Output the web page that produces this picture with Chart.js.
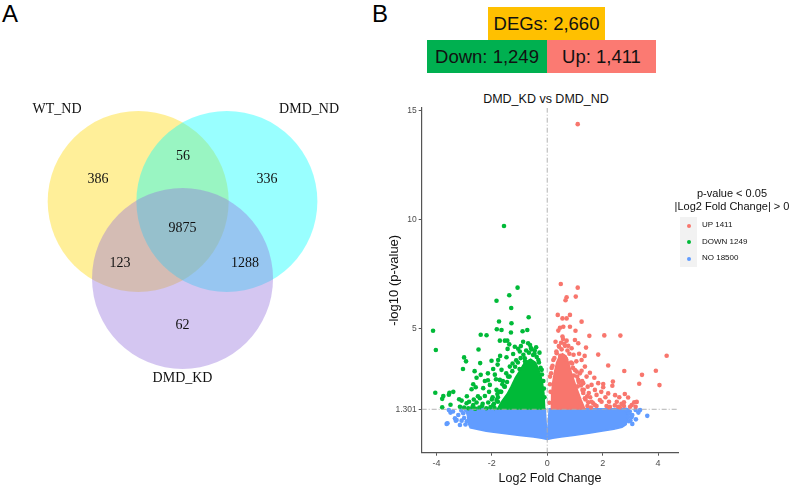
<!DOCTYPE html>
<html>
<head>
<meta charset="utf-8">
<script src="https://cdn.jsdelivr.net/npm/chart.js@4.4.0/dist/chart.umd.min.js"></script>
<style>
    body { margin: 0; width: 790px; height: 488px; position: relative; background: #fff; overflow: hidden;
        font-family: "Liberation Sans", Arial, sans-serif; }
    .abs { position: absolute; }
    .panel { font-size: 24px; line-height: 24px; top: 2px; }
    .box { position: absolute; display: flex; align-items: center; justify-content: center; font-size: 18.5px; color: #111; }
    #legend { left: 640px; top: 185px; width: 185px; }
    .lg-title { position: absolute; width: 184px; left: 0; text-align: center; font-size: 11px; color: #111; }
    .lg-keys { position: absolute; left: 40px; top: 32px; width: 17px; height: 50px; background: #f2f2f2; }
    .lg-item { position: absolute; left: 40px; height: 17px; font-size: 8px; color: #111; }
    .lg-item i { position: absolute; left: 6.5px; top: 6.5px; width: 4px; height: 4px; border-radius: 50%; }
    .lg-item span { position: absolute; left: 22px; top: 3px; white-space: nowrap; }
</style>
</head>
<body>
<div class="abs panel" style="left:2px">A</div>
<div class="abs panel" style="left:372px">B</div>

<canvas id="venn" class="abs" width="380" height="488" style="left:0;top:0"></canvas>

<div class="box" id="degBox" style="left:488px;top:7px;width:117px;height:33px;background:#ffc000"></div>
<div class="box" id="downBox" style="left:427px;top:40px;width:120px;height:33px;background:#00b050"></div>
<div class="box" id="upBox" style="left:547px;top:40px;width:109px;height:33px;background:#fb7a72"></div>

<div class="abs" id="plotTitle" style="left:446px;top:93px;width:200px;text-align:center;font-size:12.5px;line-height:13px;color:#111">DMD_KD vs DMD_ND</div>

<canvas id="volcano" class="abs" width="410" height="400" style="left:380px;top:88px"></canvas>

<div class="abs" id="legend">
    <div class="lg-title" style="top:2px">p-value &lt; 0.05</div>
    <div class="lg-title" style="top:15px">|Log2 Fold Change| &gt; 0</div>
    <div class="lg-keys"></div>
</div>

<script>
    // ---- panel A: Venn diagram (unit circles) ----
    const vennSets = ['WT_ND', 'DMD_ND', 'DMD_KD'];
    const vennCx = [-0.49, 0.49, 0];
    const vennCy = [0.284, 0.284, -0.567];
    const vennR = 1;
    const vennNameX = [-1.387, 1.398, 0];
    const vennNameY = [1.305, 1.305, -1.666];
    const vennCounts = [386, 56, 336, 9875, 123, 1288, 62];
    const vennCountX = [-0.934, 0.006, 0.934, 0, -0.69, 0.69, 0];
    const vennCountY = [0.533, 0.787, 0.533, -0.01, -0.396, -0.396, -1.08];

    // ---- panel B: DEG counts ----
    const degTotal = 2660;
    const downCount = 1249;
    const upCount = 1411;
    const noCount = 18500;
    const pThreshold = 1.301;
    const xTicks = [-4, -2, 0, 2, 4];
    const yTicks = [1.301, 5, 10, 15];

    // significant up (red)
    const upX = [1.10, 0.49, 1.10, 0.70, 0.66, 1.03, 0.38, 0.82, 0.55, 0.70, 1.24, 0.82, 0.46, 0.58, 0.40, 1.02, 1.52, 2.06, 2.64, 0.55,
        0.57, 1.00, 1.12, 1.40, 1.84, 2.20, 2.78, 3.92, 3.42, 4.05, 4.31, 3.32, 2.37, 2.35, 2.02, 2.02, 2.80, 2.92, 2.20, 3.14,
        3.23, 2.14, 2.26, 2.44, 2.56, 2.68, 2.51, 2.77, 2.23, 2.62, 2.77, 2.99, 3.19, 1.66, 1.78, 1.96, 0.43, 0.64, 0.76, 1.24,
        1.36, 1.06, 1.24, 1.42, 1.54, 1.12, 1.60, 1.72, 1.27, 1.46, 1.78, 1.90, 1.36, 1.60, 1.72, 2.23, 1.84, 0.22, 0.10, 0.34,
        0.95, 0.30, 0.88, 1.05, 1.30, 1.50, 1.45, 1.55, 1.20, 1.00, 0.12, 0.08, 0.16, 0.50, 0.70, 1.15, 1.95, 2.10, 2.45, 3.05,
        2.60, 1.70, 1.35,
        0.10, 0.14, 0.19, 0.26, 0.33, 0.42, 0.52, 0.62, 0.73, 0.80, 0.86, 0.93, 1.00, 1.08, 1.14, 1.22, 1.30, 1.38, 1.48, 1.58,
        0.60, 0.68, 0.47, 0.90, 1.18, 1.32, 1.44, 1.26, 0.96, 1.10];
    const upY = [14.38, 7.05, 6.88, 6.44, 6.30, 6.47, 5.63, 5.63, 5.47, 5.47, 5.32, 5.09, 5.04, 5.09, 4.91, 4.90, 4.67, 4.69, 4.68, 4.64,
        4.52, 4.48, 4.33, 4.13, 3.81, 3.31, 3.06, 3.07, 2.88, 2.41, 3.76, 2.47, 2.57, 2.38, 2.46, 2.31, 2.00, 1.84, 2.03, 1.62,
        1.64, 1.45, 1.42, 1.48, 1.42, 1.55, 1.65, 1.62, 1.39, 1.39, 1.45, 1.42, 1.42, 1.58, 1.45, 1.65, 4.17, 4.21, 4.21, 3.56,
        3.26, 3.03, 3.07, 2.80, 2.98, 2.65, 2.42, 2.19, 2.19, 2.34, 1.96, 1.73, 1.81, 1.65, 1.50, 1.65, 2.50, 3.56, 2.80, 3.87,
        3.80, 4.40, 4.10, 3.50, 2.50, 2.05, 1.45, 1.85, 1.55, 2.00, 2.10, 1.60, 3.20, 4.35, 4.45, 3.85, 2.10, 1.85, 1.95, 1.50,
        1.85, 2.75, 3.75,
        2.45, 2.95, 3.30, 3.65, 3.95, 4.20, 4.05, 4.30, 4.00, 3.85, 3.45, 3.20, 3.10, 2.80, 2.55, 2.40, 2.05, 1.75, 1.62, 1.38,
        3.70, 3.60, 3.75, 3.40, 2.95, 2.20, 1.90, 2.60, 2.85, 2.35];
    // solid part of the up cloud
    const upCoreX = [0.15, 0.16, 0.20, 0.26, 0.34, 0.44, 0.55, 0.68, 0.78, 0.88, 1.00, 1.10, 1.22, 1.36];
    const upCoreY = [1.32, 2.00, 2.55, 3.00, 3.45, 3.75, 3.85, 3.75, 3.40, 2.95, 2.50, 2.15, 1.75, 1.32];

    // significant down (green)
    const downX = [-4.12, -4.02, -1.56, -1.07, -1.37, -1.83, -1.30, -1.74, -1.29, -0.67, -1.82, -1.65, -1.31, -0.89, -0.72, -2.40, -2.19, -1.71, -1.53, -1.44,
        -0.69, -0.59, -1.37, -1.43, -1.05, -2.48, -1.70, -3.00, -2.93, -3.04, -2.42, -2.01, -1.79, -2.62, -2.40, -2.14, -1.89, -2.14, -2.67, -2.73,
        -2.58, -2.31, -2.07, -1.85, -4.04, -3.75, -3.79, -3.53, -3.39, -3.55, -3.79, -3.49, -3.18, -3.09, -3.15, -2.91, -2.82, -2.67, -2.55, -2.43,
        -2.25, -2.33, -2.13, -1.97, -1.83, -1.71, -1.77, -1.47, -1.23, -0.99, -0.81, -1.65, -1.35, -1.71, -1.41, -1.83, -1.53, -1.78, -0.51, -0.32,
        -0.20, -1.17, -0.87, -3.00, -2.85, -2.70, -2.60, -2.45, -2.35, -2.20, -2.05, -1.95, -1.90, -2.50, -2.10, -2.00, -1.80, -2.25, -2.55, -1.95,
        -2.65, -2.90, -1.60, -1.25, -0.45, -0.95,
        -1.92, -1.78, -1.66, -1.55, -1.45, -1.36, -1.26, -1.16, -1.06, -0.96, -0.86, -0.76, -0.66, -0.56, -0.46, -0.38, -0.30, -0.24, -0.19, -0.14,
        -0.12, -0.10, -1.62, -1.48, -1.12, -0.62, -0.40, -0.28, -1.00, -0.80];
    const downY = [4.90, 4.02, 9.71, 6.88, 6.53, 6.28, 5.95, 5.33, 5.25, 5.52, 4.97, 4.94, 4.82, 4.88, 4.94, 4.72, 4.70, 4.45, 4.45, 4.45,
        4.33, 4.11, 4.28, 4.07, 4.08, 4.04, 3.75, 3.68, 3.50, 3.15, 3.42, 3.53, 3.35, 3.05, 2.88, 2.95, 2.89, 2.63, 2.45, 2.22,
        2.31, 2.27, 2.42, 2.68, 2.06, 1.91, 1.78, 2.06, 2.10, 1.97, 1.39, 1.51, 1.76, 1.70, 1.42, 1.58, 1.65, 1.50, 1.61, 1.81,
        1.91, 1.55, 1.61, 1.85, 1.73, 2.11, 3.56, 3.69, 3.84, 3.95, 3.64, 3.11, 3.26, 2.65, 2.80, 2.19, 2.34, 1.65, 3.79, 3.56,
        3.11, 4.17, 4.40, 1.38, 1.35, 1.40, 1.33, 1.38, 1.45, 1.35, 1.40, 1.50, 1.36, 1.90, 2.10, 1.75, 2.00, 2.60, 2.75, 3.15,
        1.75, 1.90, 2.60, 3.40, 4.00, 4.20,
        1.55, 1.85, 2.10, 2.35, 2.55, 2.80, 3.05, 3.25, 3.45, 3.65, 3.80, 4.00, 3.90, 4.05, 3.85, 3.70, 3.45, 3.20, 2.90, 2.60,
        2.25, 1.85, 2.45, 2.95, 3.55, 4.25, 4.15, 3.90, 3.15, 3.50];
    // solid part of the down cloud
    const downCoreX = [-0.09, -1.80, -1.65, -1.45, -1.30, -1.15, -0.98, -0.82, -0.60, -0.42, -0.28, -0.18, -0.12];
    const downCoreY = [1.32, 1.32, 1.65, 2.00, 2.35, 2.75, 3.10, 3.45, 3.60, 3.45, 3.05, 2.60, 2.05];

    // not significant (blue), stray points
    const noX = [3.61, 3.35, 3.19, 3.20, 3.07, 3.07, 2.98, 2.95, 3.05, 3.29, 2.90, 2.95, 2.92, 3.00, 2.85,
        -3.63, -3.49, -3.30, -3.15, -3.09, -3.33, -3.21, -3.03, -3.55, -3.00, -2.95, -3.10, -3.40, -3.60, -3.27, -2.92, -2.90];
    const noY = [1.00, 1.27, 1.27, 0.84, 0.63, 1.04, 1.20, 0.75, 0.95, 1.15, 1.25, 1.10, 0.95, 0.80, 1.28,
        0.63, 1.15, 0.78, 0.58, 0.78, 0.89, 1.04, 1.12, 1.27, 0.90, 0.60, 1.25, 1.20, 0.66, 0.81, 1.25, 0.75];
    // dense body of the non significant cloud
    const noCoreX = [-2.95, -2.88, -2.85, -2.78, -2.50, -2.20, -2.00, -1.50, -1.00, -0.50, -0.20, 0.00, 0.20, 0.50, 1.00,
        1.50, 2.00, 2.40, 2.70, 2.85, 2.90, 2.88, 0.07, 0.015, -0.015, -0.07];
    const noCoreY = [1.33, 1.00, 0.65, 0.45, 0.37, 0.29, 0.26, 0.18, 0.10, 0.03, -0.03, -0.08, -0.03, 0.03, 0.11,
        0.20, 0.30, 0.38, 0.48, 0.60, 0.90, 1.33, 1.33, 0.20, 0.20, 1.33];

    const colUp = '#F8766D';
    const colDown = '#00BA38';
    const colNo = '#619CFF';
    const sans = '"Liberation Sans", Arial, sans-serif';

    const toPoints = (xs, ys) => xs.map((x, i) => ({x: x, y: ys[i]}));

    // text boxes above the volcano
    document.getElementById('degBox').textContent = 'DEGs: ' + degTotal.toLocaleString('en-US');
    document.getElementById('downBox').textContent = 'Down: ' + downCount.toLocaleString('en-US');
    document.getElementById('upBox').textContent = 'Up: ' + upCount.toLocaleString('en-US');

    // legend entries
    const legend = document.getElementById('legend');
    [['UP', upCount, colUp], ['DOWN', downCount, colDown], ['NO', noCount, colNo]].forEach((row, i) => {
        const item = document.createElement('div');
        item.className = 'lg-item';
        item.style.top = (32 + i * 16.5) + 'px';
        item.innerHTML = '<i style="background:' + row[2] + '"></i><span>' + row[0] + ' ' + row[1] + '</span>';
        legend.appendChild(item);
    });

    // ---- Venn ----
    const vennText = {
        id: 'vennText',
        afterDatasetsDraw(chart) {
            const ctx = chart.ctx;
            const sx = chart.scales.x;
            const sy = chart.scales.y;
            ctx.save();
            ctx.fillStyle = '#111';
            ctx.textAlign = 'center';
            ctx.textBaseline = 'middle';
            ctx.font = '14px "Liberation Serif", "Times New Roman", serif';
            vennCounts.forEach((n, i) => {
                ctx.fillText(String(n), sx.getPixelForValue(vennCountX[i]), sy.getPixelForValue(vennCountY[i]));
            });
            vennSets.forEach((name, i) => {
                ctx.fillText(name, sx.getPixelForValue(vennNameX[i]), sy.getPixelForValue(vennNameY[i]));
            });
            ctx.restore();
        }
    };

    new Chart(document.getElementById('venn'), {
        type: 'scatter',
        data: {
            datasets: [{
                data: toPoints(vennCx, vennCy),
                backgroundColor: ['rgba(255,215,0,0.4)', 'rgba(0,255,255,0.4)', 'rgba(147,112,219,0.4)'],
                borderWidth: 0,
                pointRadius: (c) => {
                    const s = c.chart.scales.x;
                    return s.getPixelForValue(vennR) - s.getPixelForValue(0);
                },
                clip: false,
            }]
        },
        options: {
            responsive: false,
            animation: false,
            events: [],
            layout: {padding: 0},
            scales: {
                x: {display: false, min: -2.017, max: 2.182},
                y: {display: false, min: -2.882, max: 2.51},
            },
            plugins: {legend: {display: false}, tooltip: {enabled: false}},
        },
        plugins: [vennText],
    });

    // ---- volcano ----
    // fills the dense part of a cloud, drawn in the dataset order
    const coreFill = {
        id: 'coreFill',
        beforeDatasetDraw(chart, args) {
            const ds = chart.data.datasets[args.index];
            if (!ds.core) {
                return;
            }
            const ctx = chart.ctx;
            const area = chart.chartArea;
            const pts = args.meta.data;
            ctx.save();
            ctx.beginPath();
            ctx.rect(area.left, area.top, area.right - area.left, area.bottom - area.top);
            ctx.clip();
            ctx.beginPath();
            pts.forEach((p, i) => {
                if (i === 0) {
                    ctx.moveTo(p.x, p.y);
                } else {
                    ctx.lineTo(p.x, p.y);
                }
            });
            ctx.closePath();
            ctx.fillStyle = ds.coreColor;
            ctx.strokeStyle = ds.coreColor;
            ctx.lineWidth = 1.5;
            ctx.fill();
            ctx.stroke();
            ctx.restore();
        }
    };

    const xMin = -4.53, xMax = 4.73, yMin = -0.69, yMax = 15.12;
    const refLine = {type: 'line', showLine: true, borderColor: '#aaaaaa', borderWidth: 0.9, borderDash: [5, 2, 1, 2], pointRadius: 0, fill: false};
    const dots = (xs, ys, col) => ({data: toPoints(xs, ys), backgroundColor: col, borderWidth: 0, pointRadius: 2.3});
    const core = (xs, ys, col) => ({data: toPoints(xs, ys), core: true, coreColor: col, pointRadius: 0, showLine: false});

    new Chart(document.getElementById('volcano'), {
        type: 'scatter',
        data: {
            datasets: [
                Object.assign({data: [{x: 0, y: yMin}, {x: 0, y: yMax}]}, refLine),
                Object.assign({data: [{x: xMin, y: pThreshold}, {x: xMax, y: pThreshold}]}, refLine),
                dots(upX, upY, colUp),
                core(upCoreX, upCoreY, colUp),
                dots(downX, downY, colDown),
                core(downCoreX, downCoreY, colDown),
                dots(noX, noY, colNo),
                core(noCoreX, noCoreY, colNo),
            ]
        },
        options: {
            responsive: false,
            animation: false,
            events: [],
            layout: {padding: {left: 0, top: 20, right: 111.7, bottom: 0}},
            scales: {
                x: {
                    type: 'linear', min: xMin, max: xMax,
                    afterBuildTicks: (s) => { s.ticks = xTicks.map(v => ({value: v})); },
                    afterFit: (s) => { s.height = 35.3; },
                    grid: {drawOnChartArea: false, tickLength: 3, color: '#555'},
                    border: {color: '#555', width: 1.2},
                    ticks: {color: '#4d4d4d', font: {size: 9, family: sans}, padding: 2, maxRotation: 0, autoSkip: false,
                        callback: (v) => String(v)},
                    title: {display: true, text: 'Log2 Fold Change', color: '#111', font: {size: 12.5, family: sans}, padding: {top: 0, bottom: 1.5}},
                },
                y: {
                    type: 'linear', min: yMin, max: yMax,
                    afterBuildTicks: (s) => { s.ticks = yTicks.map(v => ({value: v})); },
                    afterFit: (s) => { s.width = 41.7; },
                    grid: {drawOnChartArea: false, tickLength: 3, color: '#555'},
                    border: {color: '#555', width: 1.2},
                    ticks: {color: '#4d4d4d', font: {size: 8.5, family: sans}, padding: 2, autoSkip: false,
                        callback: (v) => String(v)},
                    title: {display: true, text: '-log10 (p-value)', color: '#111', font: {size: 13, family: sans}, padding: {top: 6.5, bottom: 0}},
                },
            },
            plugins: {legend: {display: false}, tooltip: {enabled: false}, title: {display: false}},
        },
        plugins: [coreFill],
    });
</script>
</body>
</html>
